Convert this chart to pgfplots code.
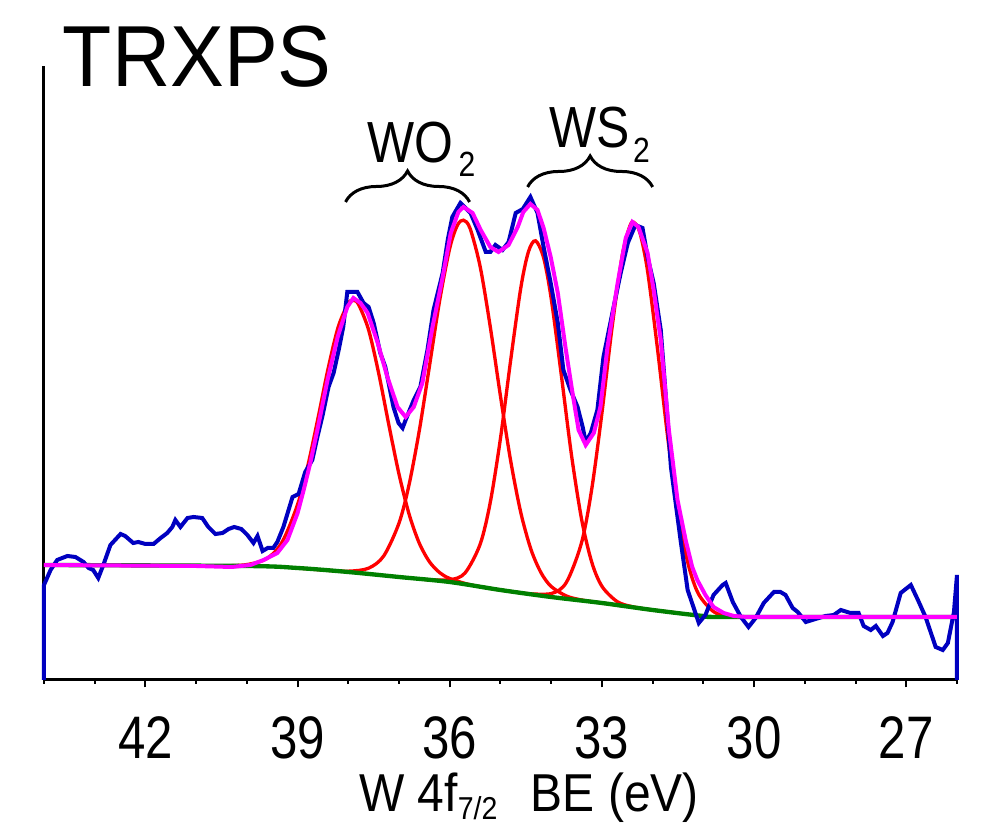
\documentclass[border=0pt]{standalone}
\usepackage{fontspec}
\setmainfont{Liberation Sans}
\newfontfamily\titlefont[FakeStretch=0.93]{Liberation Sans}
\newfontfamily\narrowfont[FakeStretch=0.86]{Liberation Sans}
\newfontfamily\tickfont[FakeStretch=0.82]{Liberation Sans}
\newfontfamily\labelfont[FakeStretch=0.9]{Liberation Sans}
\usepackage{pgfplots}
\pgfplotsset{compat=1.18}
\usetikzlibrary{decorations.pathreplacing}

\definecolor{specblue}{RGB}{0,0,192}
\definecolor{fitmag}{RGB}{255,0,255}
\definecolor{peakred}{RGB}{255,0,0}
\definecolor{bggreen}{RGB}{0,128,0}

\begin{document}
\begin{tikzpicture}
% 1 px of the reference = 0.3pt
\begin{axis}[
	at={(0,0)}, anchor=south west,
	scale only axis,
	width=273.9pt, height=184.2pt,
	xmin=26, xmax=44, x dir=reverse,
	ymin=0, ymax=614,
	axis x line*=bottom, axis y line*=left,
	axis line style={line width=0.9pt},
	ytick=\empty,
	xtick={42,39,36,33,30,27},
	xticklabels={42,39,36,33,30,27},
	minor xtick={26,27,...,44},
	tick align=outside,
	major tick length=2.2pt, minor tick length=1.2pt,
	every tick/.style={line width=0.6pt, black},
	xticklabel style={font=\tickfont\fontsize{18pt}{20pt}\selectfont, anchor=base, yshift=-21.5pt},
	clip=false,
	]

	% fitted components
	\addplot[peakred, line width=1.0pt, smooth] coordinates {(44,115)(41.0,114.3)(40.5,114.1)(40.0,115.4)(39.6,121.6)(39.3,138.4)(39.0,175.5)(38.8,213.9)(38.6,261.3)(38.4,311)(38.2,352.9)(38.0,376.7)(37.9,379.5)(37.8,375.7)(37.6,350.1)(37.4,306.4)(37.2,254.9)(37.0,205.7)(36.8,165.5)(36.6,136.7)(36.4,118.2)(36.2,107.4)(36.0,101.5)(35.6,95.3)(35.0,90)(34.5,86.5)};
	\addplot[peakred, line width=1.0pt, smooth] coordinates {(39.0,112)(38.5,110)(38.0,108.8)(37.6,111.8)(37.3,124.2)(37.0,157)(36.8,195.9)(36.6,249.6)(36.4,314)(36.2,379.3)(36.0,431.9)(35.85,454.7)(35.73,459.8)(35.6,451.6)(35.4,413.2)(35.2,352.7)(35.0,283.7)(34.8,219.4)(34.6,167.5)(34.4,130.7)(34.2,107.2)(34.0,93.5)(33.7,84)(33.4,80)(33.0,77)(32.5,73.5)};
	\addplot[peakred, line width=1.0pt, smooth] coordinates {(36.5,100.5)(36.0,100.2)(35.7,107)(35.4,135.9)(35.2,178)(35.0,241.7)(34.8,319.5)(34.6,392)(34.45,428.1)(34.31,439.2)(34.15,422.3)(34.0,381.4)(33.8,304.6)(33.6,224.9)(33.4,160.5)(33.2,117.7)(33.0,93.7)(32.7,78.4)(32.4,73.3)(32.0,70)(31.5,67)};
	\addplot[peakred, line width=1.0pt, smooth] coordinates {(34.5,86.5)(34.0,86.4)(33.7,97.7)(33.4,137.7)(33.2,191.2)(33.0,267)(32.8,352.6)(32.6,424.6)(32.45,453.8)(32.37,457.6)(32.25,447.1)(32.1,408.9)(31.9,329.2)(31.7,241.4)(31.5,167.1)(31.3,116)(31.1,86.4)(30.8,68.4)(30.5,63.8)(30.0,63)(26,63)};

	% background
	\addplot[bggreen, line width=1.3pt, smooth] coordinates {(44,115)(40,114)(39,112)(38,108)(37,103)(36,98)(35,90)(34,83)(33,77)(32,70)(31,64)(30.5,63)(26,63)};

	% measured spectrum
	\addplot[specblue, line width=1.2pt] coordinates {(44.0,0)(44.0,95)(43.87,110)(43.74,120)(43.54,124)(43.38,123)(43.22,118)(43.12,112)(43.03,110)(42.93,102)(42.83,115)(42.69,135)(42.49,146)(42.40,144)(42.24,137)(42.14,138)(42.00,136)(41.84,136)(41.70,142)(41.57,147)(41.47,153)(41.41,160)(41.31,153)(41.17,162)(41.05,163)(40.88,162)(40.76,153)(40.62,146)(40.48,147)(40.36,151)(40.25,153)(40.11,151)(39.99,145)(39.87,137)(39.79,144)(39.69,129)(39.59,132)(39.48,132)(39.40,138)(39.28,153)(39.10,183)(38.98,186)(38.85,208)(38.71,220)(38.61,243)(38.51,264)(38.39,293)(38.29,307)(38.19,330)(38.10,353)(38.02,388)(37.82,388)(37.70,377)(37.60,373)(37.50,357)(37.37,327)(37.27,313)(37.11,273)(37.01,257)(36.93,252)(36.87,260)(36.71,280)(36.58,293)(36.44,330)(36.32,370)(36.14,407)(36.04,440)(35.95,463)(35.79,477)(35.59,467)(35.45,450)(35.29,428)(35.20,428)(35.10,435)(34.96,430)(34.84,438)(34.70,467)(34.56,471)(34.41,483)(34.27,467)(34.15,433)(34.01,397)(33.87,357)(33.76,310)(33.62,290)(33.48,273)(33.38,253)(33.32,238)(33.22,247)(33.09,270)(32.97,323)(32.77,373)(32.63,407)(32.49,437)(32.34,455)(32.20,452)(32.10,423)(31.98,397)(31.84,350)(31.72,270)(31.64,213)(31.45,140)(31.31,90)(31.21,75)(31.09,57)(30.96,65)(30.80,85)(30.62,95)(30.56,97)(30.42,78)(30.26,63)(30.11,53)(29.97,62)(29.81,77)(29.61,88)(29.48,88)(29.38,85)(29.24,72)(29.14,68)(28.98,58)(28.79,61)(28.59,64)(28.43,65)(28.29,70)(28.10,67)(27.94,67)(27.84,54)(27.70,50)(27.60,54)(27.46,44)(27.37,47)(27.27,58)(27.11,87)(26.91,95)(26.77,80)(26.62,63)(26.42,33)(26.28,30)(26.18,37)(26.06,68)(26.0,105)(26.0,0)};

	% envelope
	\addplot[fitmag, line width=1.2pt] coordinates {(44,115)(41,114)(40.3,113)(39.93,115)(39.67,120)(39.40,127)(39.20,140)(39.00,167)(38.88,190)(38.75,217)(38.61,250)(38.41,300)(38.21,343)(38.02,373)(37.90,382)(37.76,377)(37.62,367)(37.42,337)(37.23,303)(37.03,273)(36.87,263)(36.71,273)(36.54,297)(36.34,353)(36.14,403)(35.98,447)(35.83,468)(35.73,473)(35.55,467)(35.39,450)(35.20,433)(35.04,428)(34.84,435)(34.66,453)(34.55,468)(34.41,476)(34.27,470)(34.15,452)(34.01,423)(33.87,387)(33.72,333)(33.58,287)(33.46,250)(33.32,235)(33.16,247)(33.03,273)(32.89,333)(32.69,397)(32.53,442)(32.40,458)(32.28,453)(32.10,427)(31.98,390)(31.84,340)(31.68,250)(31.51,180)(31.35,140)(31.22,113)(31.12,100)(30.96,85)(30.80,73)(30.60,67)(30.40,64)(30.13,63)(26.0,63)};

	% labels and braces
	\node[anchor=base west, inner sep=0pt, font=\titlefont\fontsize{26pt}{28pt}\selectfont] at (axis cs:43.64,593) {TRXPS};
	\node[anchor=base west, inner sep=0pt, font=\narrowfont\fontsize{17.4pt}{19pt}\selectfont] at (axis cs:37.63,517) {WO\hspace{1.5pt}\raisebox{-4.2pt}{\fontsize{10.5pt}{12pt}\selectfont 2}};
	\node[anchor=base west, inner sep=0pt, font=\narrowfont\fontsize{17.4pt}{19pt}\selectfont] at (axis cs:34.05,532) {WS\hspace{1pt}\raisebox{-4.5pt}{\fontsize{10.5pt}{12pt}\selectfont 2}};
	\draw[line width=0.9pt, decorate, decoration={brace, amplitude=9.3pt}] (axis cs:38.055,478) -- (axis cs:35.609,478);
	\draw[line width=0.9pt, decorate, decoration={brace, amplitude=9.3pt}] (axis cs:34.465,493) -- (axis cs:32.0,493);
	\node[anchor=base west, inner sep=0pt, font=\labelfont\fontsize{16pt}{17pt}\selectfont] at (axis cs:37.80,-131) {W 4f\raisebox{-2.6pt}{\fontsize{9.5pt}{10pt}\selectfont 7/2}\hspace{10pt}BE (eV)};
\end{axis}
\pgfresetboundingbox
\useasboundingbox (-13.2pt,-44.4pt) rectangle (286.2pt,204pt);
\end{tikzpicture}
\end{document}
